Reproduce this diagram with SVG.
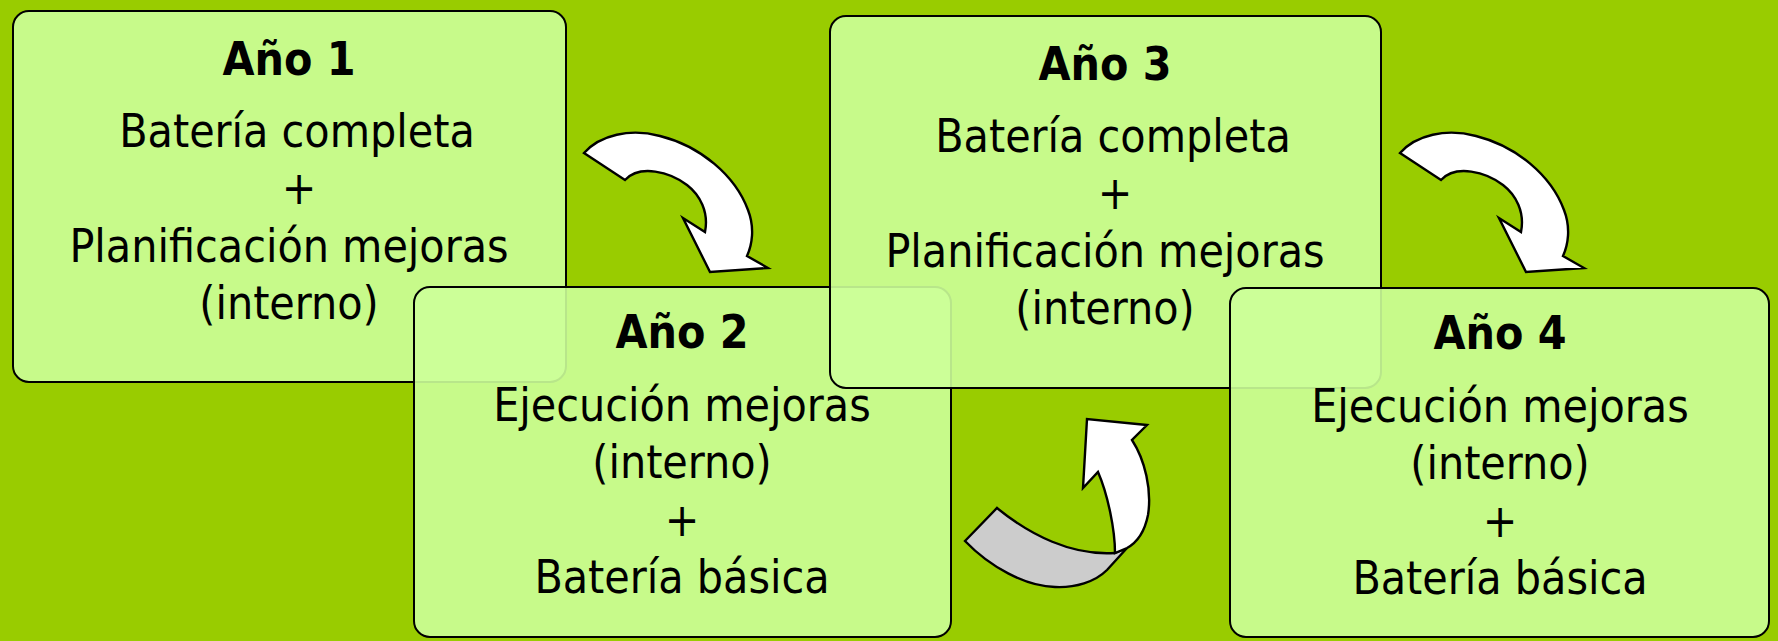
<svg xmlns="http://www.w3.org/2000/svg" width="1778" height="641" viewBox="0 0 1778 641">
<style>
.box{fill:#CCFF99;fill-opacity:0.9;stroke:#000;stroke-width:2}
.t{font-family:"DejaVu Sans Condensed","DejaVu Sans",sans-serif;font-stretch:condensed;font-size:46px;fill:#000;text-anchor:middle}
.b{font-weight:bold}
.arr{stroke:#000;stroke-width:2.4;stroke-linejoin:miter}
</style>
<rect width="1778" height="641" fill="#99CC00"/>
<g id="box1">
<rect class="box" x="13" y="11" width="553" height="371" rx="16"/>
<text class="t b" x="289" y="75">Año 1</text>
<text class="t" x="297" y="147">Batería completa</text>
<text class="t" x="299" y="204">+</text>
<text class="t" x="289" y="262">Planificación mejoras</text>
<text class="t" x="289" y="319">(interno)</text>
</g>
<g id="box2">
<rect class="box" x="414" y="287" width="537" height="350" rx="16"/>
<text class="t b" x="682" y="348">Año 2</text>
<text class="t" x="682" y="421">Ejecución mejoras</text>
<text class="t" x="682" y="478">(interno)</text>
<text class="t" x="682" y="536">+</text>
<text class="t" x="682" y="593">Batería básica</text>
</g>
<g id="box3">
<rect class="box" x="830" y="16" width="551" height="372" rx="16"/>
<text class="t b" x="1105" y="80">Año 3</text>
<text class="t" x="1113" y="152">Batería completa</text>
<text class="t" x="1115" y="209">+</text>
<text class="t" x="1105" y="267">Planificación mejoras</text>
<text class="t" x="1105" y="324">(interno)</text>
</g>
<g id="box4">
<rect class="box" x="1230" y="288" width="539" height="349" rx="16"/>
<text class="t b" x="1500" y="349">Año 4</text>
<text class="t" x="1500" y="422">Ejecución mejoras</text>
<text class="t" x="1500" y="479">(interno)</text>
<text class="t" x="1500" y="537">+</text>
<text class="t" x="1500" y="594">Batería básica</text>
</g>
<g id="connectors">
<defs>
<path id="curvedDown" d="M584,153 C600,135 630,128 660,136 C700,146 735,175 748,210 C755,228 752,245 747,256 L768,268 L710,272 L683,218 L705,232 C709,212 700,195 687,185 C670,172 640,164 625,180 Z"/>
</defs>
<use href="#curvedDown" class="arr" fill="#FFFFFF"/>
<use href="#curvedDown" class="arr" fill="#FFFFFF" transform="translate(816,0)"/>
<path class="arr" fill="#CCCCCC" d="M965,541 L997,508 C1030,535 1072,556 1115,553 L1127,548 L1107,570 C1095,582 1075,588 1055,587 C1025,586 990,567 965,541 Z"/>
<path class="arr" fill="#FFFFFF" d="M1115,553 C1115,530 1108,495 1098,472 L1083,488 L1087,419 L1147,425 L1132,440 C1145,460 1152,490 1148,515 C1145,530 1138,542 1127,548 Z"/>
</g>
</svg>
